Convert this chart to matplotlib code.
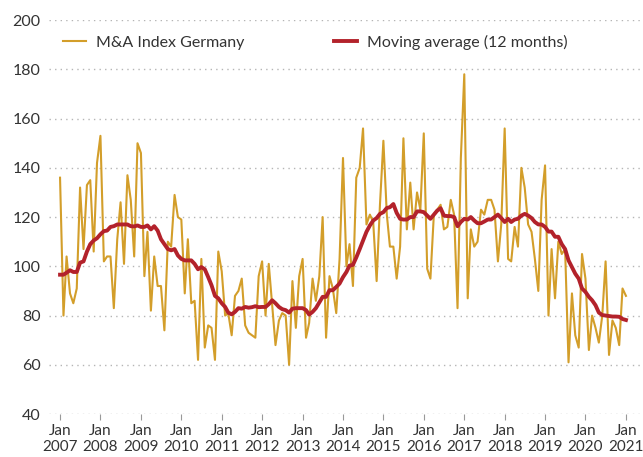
import matplotlib
matplotlib.use('Agg')
import matplotlib.pyplot as plt
import matplotlib.dates as mdates
import pandas as pd

plt.rcParams['font.family'] = ['Lato', 'DejaVu Sans']

# monthly values, Jan 2007 - Jan 2021
dates = pd.date_range('2007-01-01', '2021-01-01', freq='MS')

ma_index = [
    136, 80, 104, 89, 85, 91, 132, 107, 133, 135, 106, 142,   # 2007
    153, 102, 104, 104, 83, 111, 126, 101, 137, 127, 104, 150,  # 2008
    146, 96, 114, 82, 104, 92, 92, 74, 110, 108, 129, 120,      # 2009
    119, 89, 111, 85, 86, 62, 103, 67, 76, 75, 62, 106,         # 2010
    98, 80, 81, 72, 88, 90, 95, 76, 73, 72, 71, 96,             # 2011
    102, 80, 101, 84, 68, 78, 81, 80, 60, 94, 75, 96,           # 2012
    103, 71, 77, 95, 86, 96, 120, 71, 96, 91, 81, 103,          # 2013
    144, 100, 109, 92, 136, 140, 156, 117, 121, 118, 94, 125,   # 2014
    151, 121, 108, 108, 95, 108, 152, 115, 134, 115, 130, 123,  # 2015
    154, 99, 95, 121, 123, 125, 115, 116, 127, 121, 83, 144,    # 2016
    178, 87, 115, 108, 110, 123, 121, 127, 127, 123, 102, 117,  # 2017
    156, 103, 102, 116, 108, 140, 132, 117, 114, 103, 90, 127,  # 2018
    141, 80, 107, 87, 110, 105, 107, 61, 89, 72, 67, 105,       # 2019
    95, 66, 80, 75, 69, 80, 102, 64, 78, 75, 68, 91,            # 2020
    88,                                                         # 2021
]

moving_avg = [
    96.6, 96.6, 97.4, 98.4, 97.7, 97.7, 101.5, 102, 106, 109, 110.5, 111.4,
    113, 114.3, 114.5, 116, 116.3, 117, 117, 117, 117, 116.3, 116.2, 116.6,
    116, 116, 116.6, 115, 116.3, 114.5, 111, 109, 107, 106.5, 107, 104.4,
    103, 102.4, 102.4, 102.4, 101, 98.8, 99.7, 98.8, 95.6, 92.3, 88, 87,
    85, 83.5, 81.2, 80.5, 81.5, 83, 82.8, 83.5, 83.2, 83.4, 83.8, 83.4,
    83.5, 83.5, 84.6, 86.2, 85, 83.5, 82.6, 82.2, 81.2, 82.8, 83, 83,
    83, 82.2, 80.4, 81.5, 83, 85.3, 87.6, 87.6, 90.3, 90.3, 91.6, 93,
    95.6, 97.7, 100.3, 100.6, 103.6, 107, 110.5, 114, 116.6, 118.6, 119.6, 121.3,
    122, 123.7, 124, 125.3, 121.7, 119.3, 119, 119, 120, 120, 122.3, 122.3,
    122, 120.6, 119.3, 121, 122.6, 123.6, 120.6, 120.4, 120.4, 120, 116.3, 118,
    119.3, 119, 120, 118.6, 117.5, 117.5, 118.2, 119, 119, 120, 121, 119.6,
    118, 119.3, 118, 119, 119.3, 120.6, 121.3, 120.6, 119.6, 118, 117, 117,
    116, 114.1, 114.1, 112, 112, 109, 107, 102.4, 99.7, 97, 95, 91,
    89.6, 87.6, 86.2, 84.2, 81.2, 80.2, 80, 79.8, 79.6, 79.6, 79.5, 78.6,
    78.2,
]

gold = '#D39E2A'
red = '#B3222B'
text_col = '#333333'

fig = plt.figure(figsize=(6.43, 4.57), dpi=100)
ax = fig.add_axes([0.076, 0.094, 0.919, 0.862])

ax.plot(dates, ma_index, color=gold, lw=1.5, label='M&A Index Germany', zorder=2)
ax.plot(dates, moving_avg, color=red, lw=2.8, label='Moving average (12 months)', zorder=3)

ax.set_ylim(40, 200)
ax.set_yticks(range(40, 201, 20))
ax.set_xlim(pd.Timestamp('2006-09-22'), pd.Timestamp('2021-05-06'))
ax.xaxis.set_major_locator(mdates.YearLocator())
ax.xaxis.set_major_formatter(mdates.DateFormatter('Jan\n%Y'))

ax.grid(axis='y', linestyle=(0, (1, 3)), color='#b5b5b5', lw=1.0)
ax.set_axisbelow(True)
for s in ax.spines.values():
    s.set_visible(False)

ax.tick_params(axis='y', length=0, pad=6, labelsize=11.5, labelcolor=text_col)
ax.tick_params(axis='x', length=4, color='#999999', pad=3, labelsize=11,
               labelcolor=text_col)

ax.legend(loc='upper left', bbox_to_anchor=(0.0, 1.0), ncol=2, frameon=False,
          fontsize=11.5, labelcolor=text_col, handlelength=1.45, handletextpad=0.6,
          columnspacing=5.6, borderaxespad=0.5)

fig.savefig('out.png', dpi=100)
